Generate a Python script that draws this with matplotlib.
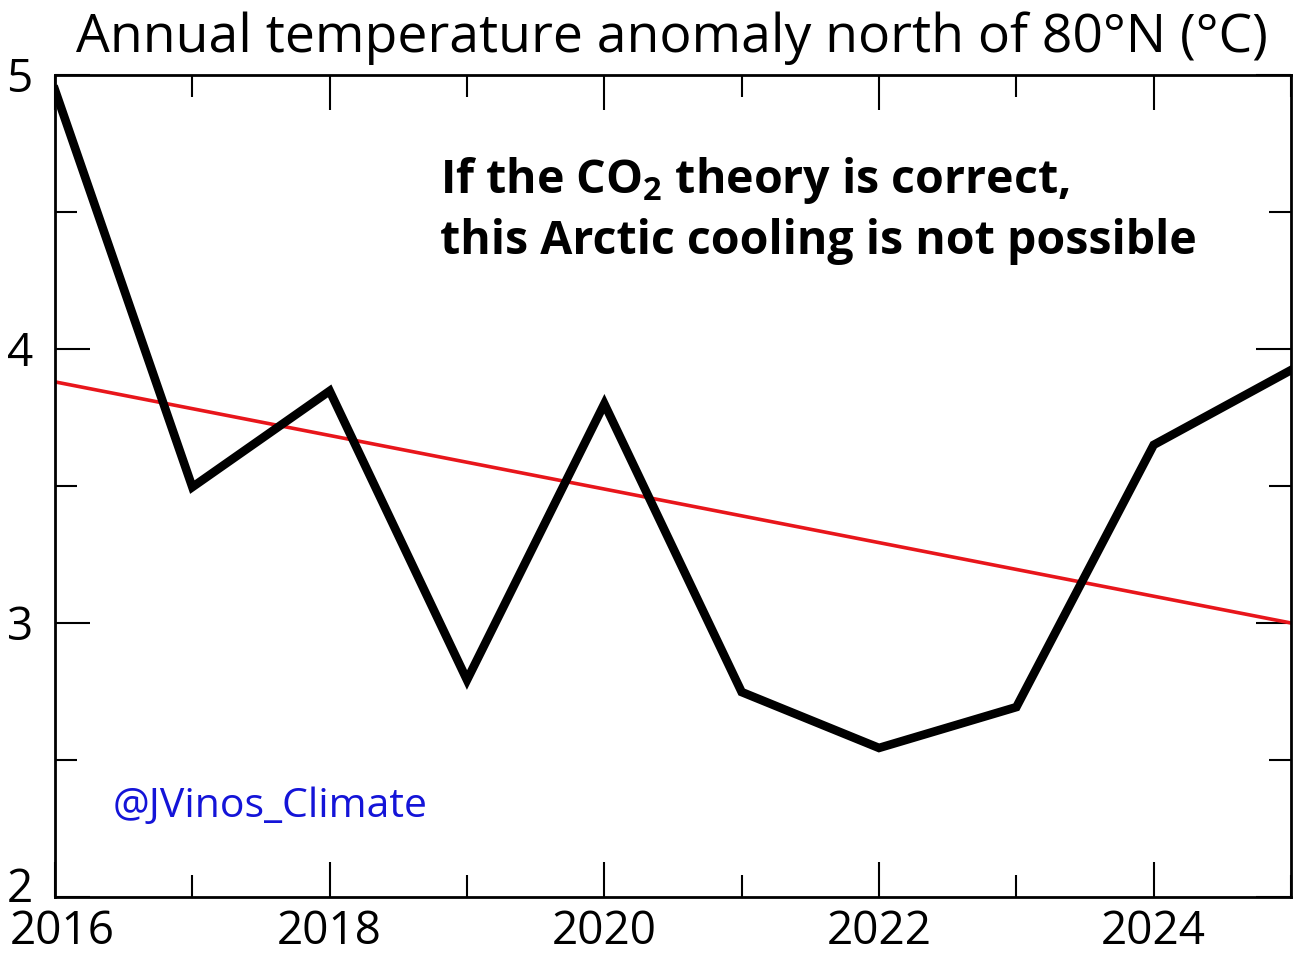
import matplotlib
matplotlib.use("Agg")
import matplotlib.pyplot as plt
import matplotlib.transforms as mtransforms
from matplotlib.ticker import FixedLocator

years = [2016, 2017, 2018, 2019, 2020, 2021, 2022, 2023, 2024, 2025]
anomaly = [4.945, 3.496, 3.847, 2.792, 3.80, 2.748, 2.544, 2.693, 3.65, 3.923]
trend_years = [2016, 2025]
trend_vals = [3.88, 3.00]
x_major = [2016, 2018, 2020, 2022, 2024]
x_minor = [2017, 2019, 2021, 2023, 2025]
y_major = [2, 3, 4, 5]
y_minor = [2.5, 3.5, 4.5]
title = "Annual temperature anomaly north of 80°N (°C)"
note = "If the CO$_2$ theory is correct,\nthis Arctic cooling is not possible"
handle = "@JVinos_Climate"

plt.rcParams['font.family'] = ['Open Sans', 'DejaVu Sans']
plt.rcParams['mathtext.fontset'] = 'custom'
plt.rcParams['mathtext.rm'] = 'Open Sans:bold'
plt.rcParams['mathtext.it'] = 'Open Sans:bold'
plt.rcParams['mathtext.bf'] = 'Open Sans:bold'

fig = plt.figure(figsize=(12.94, 9.56), dpi=100)
ax = fig.add_axes([55/1294, 59/956, 1236/1294, 822/956])

ax.plot(trend_years, trend_vals, color='#e8161b', lw=2.6, zorder=2)
ax.plot(years, anomaly, color='black', lw=6.2, zorder=3, solid_joinstyle='miter')

ax.set_xlim(2016, 2025)
ax.set_ylim(2, 5)
ax.xaxis.set_major_locator(FixedLocator(x_major))
ax.xaxis.set_minor_locator(FixedLocator(x_minor))
ax.yaxis.set_major_locator(FixedLocator(y_major))
ax.yaxis.set_minor_locator(FixedLocator(y_minor))
ax.tick_params(which='both', direction='in', top=True, right=True, width=1.5, colors='black')
ax.tick_params(which='major', length=25)
ax.tick_params(which='minor', length=16)
ax.tick_params(axis='x', which='major', labelsize=33, pad=9)
ax.tick_params(axis='y', which='major', labelsize=33, pad=16)
for s in ax.spines.values():
    s.set_linewidth(2.0)

fig.canvas.draw()
# nudge the lowest y label up and the first x label right, as in the reference
ytick0 = ax.yaxis.get_major_ticks()[0].label1
ytick0.set_transform(ytick0.get_transform() + mtransforms.ScaledTranslation(0, 12/100, fig.dpi_scale_trans))
xtick0 = ax.xaxis.get_major_ticks()[0].label1
xtick0.set_transform(xtick0.get_transform() + mtransforms.ScaledTranslation(7/100, 0, fig.dpi_scale_trans))

fig.text(672/1294, 1 - 38/956, title, ha='center', va='center', fontsize=38.5)
fig.text(440/1294, 1 - 210/956, note, ha='left', va='center', fontsize=33.5,
         fontweight='bold', linespacing=1.35)
fig.text(113/1294, 1 - 807/956, handle, ha='left', va='center', fontsize=29.5, color='#1414d8')

fig.savefig('out.png', dpi=100)
